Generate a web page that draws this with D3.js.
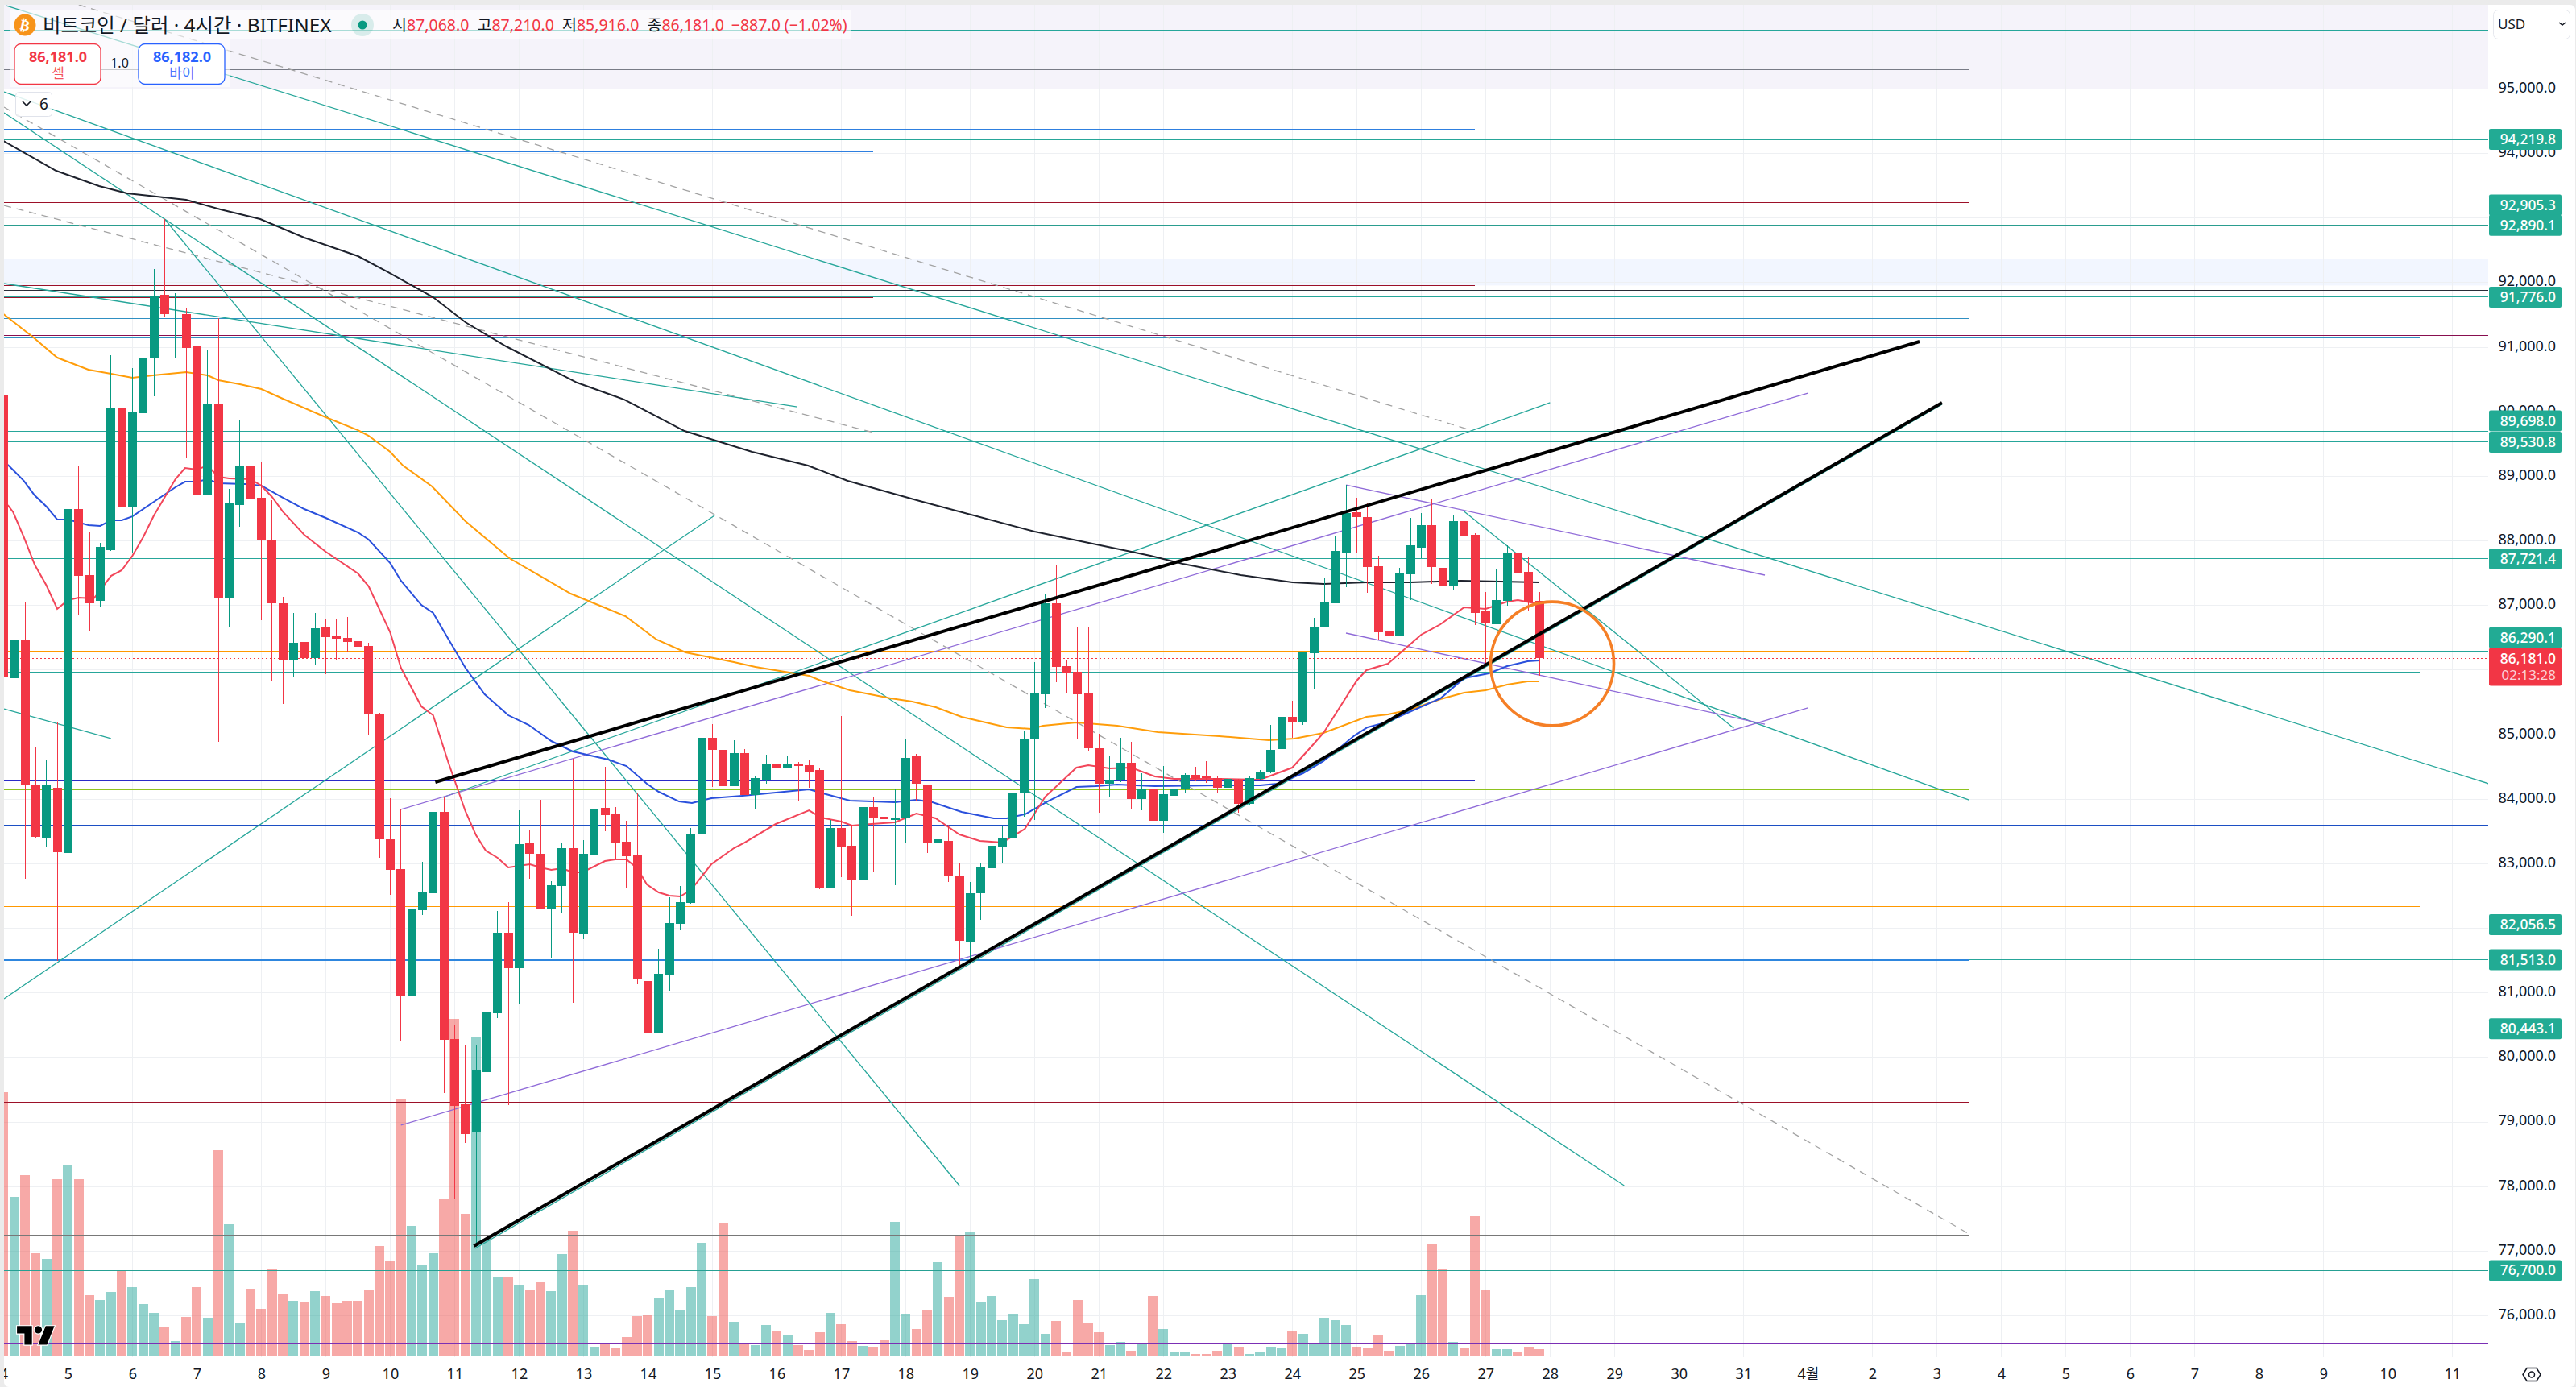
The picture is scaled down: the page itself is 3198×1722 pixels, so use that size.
<!DOCTYPE html>
<html>
<head>
<meta charset="utf-8">
<script src="https://cdn.jsdelivr.net/npm/d3@7"></script>
<style>
  html, body { margin: 0; padding: 0; background: #ebebeb; overflow: hidden; }
  svg text { font-family: "Noto Sans", "Noto Sans CJK KR", sans-serif; }
</style>
</head>
<body>
<svg id="chart" width="3198" height="1722"></svg>
<script>
// 4h candles, Mar 4 00:00 -> Mar 27 20:00
const opens = [90266,85875,86475,84215,83407,84176,83164,88494,87472,87072,87858,90054,88532,89979,90831,91814,91530,91518,91027,88719,90116,87127,88557,89156,88669,88008,87035,86162,86436,86187,86661,86524,86499,86449,86372,85329,83380,82918,80951,82282,82544,83804,80286,79276,78852,79775,80685,81933,81384,83330,83155,82307,82656,83242,81920,83143,83866,83766,83342,83130,81184,80386,81284,82070,82394,83469,84953,84762,84204,84715,84066,84304,84552,84490,84538,84528,84452,82624,83555,83278,82757,83879,83726,83693,83703,84662,84228,83330,83354,82819,81793,82543,82929,83273,83392,84085,84925,85627,87035,86061,85975,85650,84791,84242,84285,84567,84003,84151,83669,84056,84147,84376,84352,84328,84180,84304,83922,84314,84409,84782,85276,85193,86265,86673,87039,87821,88444,88369,87604,86606,86523,87484,87895,88245,87584,87309,88307,88095,86910,86710,87072,87808,87521,87068];
const highs = [90300,87297,87060,84800,84603,85182,88753,89168,88145,87971,90877,91139,90677,91251,92210,92988,91843,91618,91235,90952,91451,88806,89867,91305,89218,88632,87135,86885,86711,86885,86786,86798,86823,86511,86423,85340,84016,83841,82955,83030,84253,84028,80511,80186,80186,80885,82269,82407,83829,83529,83991,82731,83317,84628,83367,84066,84502,83879,83667,84103,81396,81683,82481,82656,83554,85450,85164,84915,84915,84777,84352,84691,84724,84677,84576,84600,84476,83684,85288,83602,83880,84042,83946,84166,84925,84700,84228,83454,83598,83015,82714,83006,83454,83579,84280,85068,86118,87183,87622,86166,86667,86667,85011,84677,84949,84887,84400,84438,84509,84648,84400,84505,84590,84362,84428,84318,84352,84447,85149,85345,85525,86278,86810,87434,88070,88864,88669,88577,87771,86972,87584,88357,88432,88644,88033,88394,88469,88120,87209,87559,87933,87845,87746,87210];
const lows = [85800,85406,82765,83400,83266,81500,82222,86865,86598,86989,87846,88170,87821,89904,90243,91461,90831,89279,88075,88707,84883,86678,88220,88257,86773,85825,85476,85900,86012,86087,85937,86162,86274,86183,84985,83093,82519,80253,80328,82207,81421,79455,77803,78677,77067,79725,80610,79263,80835,82768,82307,81534,82232,80847,81833,82931,83504,83068,82619,81134,80111,80386,81034,81970,82382,82872,84190,83941,84204,84066,83841,84242,84328,84471,83980,84175,82610,82624,82791,82199,82757,82882,83383,82671,83311,83960,83173,82471,82724,81430,81511,82132,82767,83015,83392,83731,83684,85417,85813,85631,84939,84734,83793,84032,84270,83841,83827,83311,83478,83922,84104,84276,84247,84085,84180,83788,83917,84304,84400,84705,84956,85151,85717,86673,87039,87284,87825,87197,86461,86448,86523,87085,87729,87334,87238,87247,87995,86698,86099,86710,86997,87438,86922,85916];
const closes = [85888,86474,84215,83419,84215,83177,88492,87459,87035,87908,90066,88532,89991,90840,91795,91518,91540,90993,88719,90116,87127,88582,89156,88657,88008,87035,86162,86424,86187,86648,86511,86486,86436,86361,85329,83385,82906,80951,82294,82556,83804,80278,79251,78814,79812,80698,81933,81384,83305,83155,82307,82669,83242,81933,83155,83854,83754,83330,83118,81209,80373,81296,82082,82407,83467,84953,84762,84204,84715,84066,84328,84538,84490,84538,84519,84428,82633,83555,83268,82757,83879,83717,83693,83703,84638,84242,83335,83378,82805,81812,82543,82944,83278,83388,84089,84939,85636,87035,86051,85951,85627,84791,84242,84304,84567,84003,84151,83669,84080,84151,84376,84318,84333,84180,84314,83922,84323,84428,84762,85273,85193,86278,86673,87047,87845,88428,88369,87596,86586,86523,87509,87933,88245,87596,87309,88307,88082,86885,86723,87085,87808,87509,87060,86181];
const volumes = [984,594,675,384,363,660,711,660,228,210,240,321,258,195,162,108,57,147,258,144,768,492,123,252,177,327,231,207,201,243,225,198,207,207,249,411,354,957,486,342,384,588,1257,531,1188,437,294,294,267,249,276,243,381,468,267,36,45,30,72,150,153,219,246,171,258,423,150,495,129,51,42,117,96,81,42,24,90,162,120,57,39,36,60,501,159,102,171,351,222,452,465,201,225,135,159,120,288,84,132,18,210,126,90,42,54,21,45,225,102,15,18,9,9,21,45,36,9,18,36,33,93,84,48,144,135,117,36,33,81,21,39,45,228,420,324,54,30,522,246,27,27,18,36,27];

// moving averages as [bar, price]
const maRed = [[0.4,88556],[0.9,88444],[1.9,88057],[2.9,87633],[4,87309],[5,86947],[6,87084],[7,87122],[8.4,87109],[9,87234],[10,87458],[11,87546],[12,87770],[13,88057],[14,88394],[16,88955],[16.9,89130],[18,89105],[19,89167],[20,88993],[21,88968],[23,88955],[24,88856],[25,88681],[26,88456],[28,88095],[30,87833],[33,87496],[34,87296],[36,86585],[37,86036],[38.9,85437],[40,85300],[41.4,84577],[43,83816],[44,83441],[44.9,83204],[46,83092],[47,82942],[49,82992],[50,82942],[51,82905],[52,82930],[53,82868],[53.9,82868],[56,83042],[57,83067],[58,83067],[59,82930],[59.9,82680],[61,82556],[62,82506],[63,82493],[64,82593],[65.9,82992],[68,83242],[69,83329],[71.9,83616],[75,83828],[76.1,83716],[78,83653],[79,83591],[80.8,83616],[83,83641],[85,83778],[86.8,83703],[89,83454],[90.9,83354],[93,83329],[95.1,83541],[96,83778],[97,84040],[99.9,84489],[101,84527],[103,84477],[105,84489],[107.2,84352],[109,84315],[113.2,84315],[117,84302],[120,84489],[121.9,84839],[122.9,85026],[126,85837],[126.9,85999],[128.9,86099],[132,86548],[133.8,86710],[136,86972],[138,86947],[140,87059],[141,87084],[143,87022]];
const maBlue = [[0.4,89180],[1.9,88930],[2.9,88706],[4,88531],[5,88332],[6,88332],[7.9,88244],[9,88232],[10,88319],[11,88319],[12,88381],[14,88606],[16,88831],[16.9,88918],[18,88918],[19,88955],[20,88893],[22.5,88881],[24,88856],[25.9,88681],[28,88494],[30,88357],[33,88132],[34,88020],[36,87658],[37,87384],[38.9,87009],[40,86885],[41.4,86485],[43,86036],[44.8,85624],[47,85300],[48.9,85150],[51,84901],[53,84739],[56.3,84614],[58,84514],[59.9,84240],[61,84115],[62.9,83965],[64.1,83940],[65.9,84015],[68.8,84053],[75,84152],[76.3,84090],[78.8,83978],[83,83953],[85,83990],[86.5,83953],[89.2,83803],[92.2,83703],[93.4,83703],[95.1,83766],[97.2,83965],[99.9,84190],[101.7,84202],[103.7,84227],[107.2,84202],[113.2,84215],[117,84215],[118.6,84240],[121,84402],[122.9,84589],[125.8,84988],[127,85113],[128.7,85188],[133.8,85562],[136,85874],[138.3,85949],[140,86061],[141.9,86136],[143,86148]];
const maOrange = [[0,91513],[2.7,91163],[5,90839],[7.9,90652],[10,90590],[12,90527],[13.9,90565],[17,90615],[19,90565],[20,90490],[22,90427],[24,90353],[26,90203],[30,89916],[33,89716],[34,89629],[36,89380],[37.2,89167],[39.9,88843],[43,88307],[47.1,87733],[50.1,87446],[52.8,87184],[57.9,86835],[59.7,86610],[60.8,86473],[63.5,86273],[68,86124],[70,86049],[75,85911],[76.1,85837],[78.8,85687],[82.6,85562],[84.6,85512],[86.8,85425],[89.2,85275],[93.4,85113],[95.7,85088],[96.8,85138],[99.9,85188],[103.7,85138],[107.5,85038],[113.2,84976],[117.8,84913],[120.2,84938],[122.9,85026],[126.9,85275],[128.9,85313],[131,85388],[133.8,85550],[136,85650],[138,85687],[140,85774],[141.9,85824],[143,85824]];
const maBlack = [[0,94195],[4.9,93733],[8.9,93496],[11.5,93384],[17,93284],[20.2,93134],[23.9,92985],[28,92698],[33,92411],[35.7,92174],[40,91775],[43,91388],[46.8,91014],[53.4,90452],[57.8,90190],[63.4,89704],[69.7,89380],[74.9,89167],[78.6,88930],[85.3,88619],[96,88144],[106.8,87770],[109.8,87645],[115.2,87471],[120,87359],[122.9,87334],[126.9,87359],[131,87359],[135.7,87383],[143,87359]];

// drawn horizontal levels, grouped by where they stop
const tealFull = [95907,94219.8,91776,89698,89530.8,87721.4,86290.1,82056.5,81513];
const tealBold = [80443.1,76700];
const tealHeavy = [92890.1];
const tealShort = [[88403,183],[85973,225]];
const blackFull = [95000,92367,91881];
const grayShort = [[95299,183]];
const grayBold = [[77251,183]];
const blueLight = [[94373,137],[94029,81]];
const blueThick = [[81513,183]];
const darkRed = [[94228,225],[91957,137],[91775,81],[93237,183],[79303,183]];
const steelBlue = [[91442,183],[91145,225]];
const orangeShort = [[86290,183],[82337,225]];
const navyShort = [[84673,81],[84285,137]];
const limeShort = [[84145,183],[78710,225]];
const magentaFull = [91182];
const royalFull = [83598];
const purpleFull = [75578];

// trend lines as [bar1, price1, bar2, price2]
const tealTrends = [[0.27,96291,231.4,84240],[0.05,94956,183,83990],[0.05,94632,150.9,78015],[15,92985,89,78015],[0.05,91987,73.9,90078],[0.05,85400,10,84939],[0.05,80910,66.2,88394],[136,88457,161.1,85101],[43.9,77042,180.5,90116],[40.9,84028,144,90141]];
const purpleTrends = [[37,83841,168,90290],[37,78951,168,85413],[125,88868,164,87471],[125,86573,164,85163]];
const dashedTrends = [[7,96304,136.6,89717],[0.05,93197,81,89679],[0.05,94719,183,77267]];
const blackTrends = [[40.2,84265,178.4,91089],[43.8,77080,180.5,90141]];

// 86,000 sits fully under the last price tag in the reference
const gridPrices = d3.range(76000, 95001, 1000);
const priceTicks = gridPrices.filter(d => d !== 86000);
const dayLabels = ["4","5","6","7","8","9","10","11","12","13","14","15","16","17","18","19","20","21","22","23","24","25","26","27","28","29","30","31","4월","2","3","4","5","6","7","8","9","10","11"];
const labelTexts = ["94,219.8","92,905.3","92,890.1","91,776.0","89,698.0","89,530.8","87,721.4","86,290.1","82,056.5","81,513.0","80,443.1","76,700.0"];
const labelPrices = [94219.8,92905.3,92890.1,91776,89698,89530.8,87721.4,86290.1,82056.5,81513,80443.1,76700];
const labelShifts = [0,-24,0,0,-13,0,0,-17,0,0,0,0];
const lastClose = 86181;

const plotLeft = 5, plotRight = 3089, plotTop = 6, plotBottom = 1685;

const x = d3.scaleLinear().domain([0, 231.35]).range([4.4, plotRight]);
const y = d3.scaleLinear().domain([95000, 76000]).range([110.5, 1633.5]);
const yVol = d3.scaleLinear().domain([0, 1200]).range([1684, 1284]);

const svg = d3.select("#chart");
const fmt = d3.format(",.1f");
const up = "#089981", down = "#F23645";

svg.append("rect").attr("x", plotLeft).attr("y", plotTop).attr("width", 3192).attr("height", 1716).attr("rx", 6).attr("fill", "#fff");

svg.append("clipPath").attr("id", "plot").append("rect")
  .attr("x", plotLeft).attr("y", plotTop).attr("width", plotRight - plotLeft).attr("height", plotBottom - plotTop);

const plot = svg.append("g").attr("clip-path", "url(#plot)");

// bands
plot.append("rect").attr("x", plotLeft).attr("width", plotRight - plotLeft)
  .attr("y", y(96400)).attr("height", y(95000) - y(96400)).attr("fill", "#f5f3fa");
plot.append("rect").attr("x", plotLeft).attr("width", plotRight - plotLeft)
  .attr("y", y(92367)).attr("height", y(91957) - y(92367)).attr("fill", "#f2f6ff");

// grid
plot.append("g").attr("shape-rendering", "crispEdges").selectAll("line").data(gridPrices).join("line")
  .attr("x1", plotLeft).attr("x2", plotRight).attr("y1", d => y(d)).attr("y2", d => y(d))
  .attr("stroke", "#eef0f3").attr("stroke-width", 1);
plot.append("g").attr("shape-rendering", "crispEdges").selectAll("line").data(dayLabels).join("line")
  .attr("x1", (d, i) => x(i * 6)).attr("x2", (d, i) => x(i * 6)).attr("y1", plotTop).attr("y2", plotBottom)
  .attr("stroke", "#eef0f3").attr("stroke-width", 1);

// volume
plot.append("g").attr("shape-rendering", "crispEdges").selectAll("rect").data(volumes).join("rect")
  .attr("x", (d, i) => x(i) - 6).attr("width", 12)
  .attr("y", d => yVol(d)).attr("height", d => yVol(0) - yVol(d))
  .attr("fill", (d, i) => closes[i] >= opens[i] ? "rgba(38,166,154,0.5)" : "rgba(239,83,80,0.5)");

function levels(rows, color, width) {
  plot.append("g").attr("shape-rendering", "crispEdges").selectAll("line").data(rows).join("line")
    .attr("x1", plotLeft)
    .attr("x2", d => Array.isArray(d) ? x(d[1]) : plotRight)
    .attr("y1", d => y(Array.isArray(d) ? d[0] : d))
    .attr("y2", d => y(Array.isArray(d) ? d[0] : d))
    .attr("stroke", color).attr("stroke-width", width);
}
levels(blackFull, "#2a2e39", 1);
levels(grayShort, "#787b86", 1);
levels(grayBold, "#787878", 1);
levels(tealShort, "#26a69a", 1);
levels(tealFull, "#26a69a", 1);
levels(blueLight, "#2e7fe0", 1);
levels(darkRed, "#9c1028", 1);
levels(steelBlue, "#2f8fc2", 1);
levels(orangeShort, "#ff9800", 1);
levels(navyShort, "#2a2ac8", 1);
levels(limeShort, "#8fc31f", 1);
levels(magentaFull, "#880e4f", 1);
levels(royalFull, "#1c4fc4", 1);
levels(purpleFull, "#7b2fb5", 1);
levels(tealBold, "#26a093", 1);
levels(tealHeavy, "#2a9d8f", 2);
levels(blueThick, "#2e86de", 2);

function trends(rows, color, width, dash) {
  plot.append("g").selectAll("line").data(rows).join("line")
    .attr("x1", d => x(d[0])).attr("y1", d => y(d[1]))
    .attr("x2", d => x(d[2])).attr("y2", d => y(d[3]))
    .attr("stroke", color).attr("stroke-width", width)
    .attr("stroke-dasharray", dash || null);
}
trends(dashedTrends, "#a3a3a3", 1.3, "9 7");
trends(tealTrends, "#26a69a", 1.3);
trends(purpleTrends, "#8f6ad8", 1.3);

// last price line
plot.append("line").attr("x1", plotLeft).attr("x2", plotRight)
  .attr("y1", y(lastClose)).attr("y2", y(lastClose))
  .attr("stroke", down).attr("stroke-width", 1).attr("stroke-dasharray", "2 3")
  .attr("shape-rendering", "crispEdges");

// moving averages
const line = d3.line().x(d => x(d[0])).y(d => y(d[1]));
[[maBlack, "#1e222d"], [maOrange, "#ff9d0a"], [maBlue, "#2a50dc"], [maRed, "#f2465a"]].forEach(([rows, color]) => {
  plot.append("path").attr("d", line(rows)).attr("fill", "none").attr("stroke", color).attr("stroke-width", 2);
});

// candles
const candles = plot.append("g").attr("shape-rendering", "crispEdges").selectAll("g").data(closes).join("g")
  .attr("fill", (d, i) => d >= opens[i] ? up : down)
  .attr("stroke", (d, i) => d >= opens[i] ? up : down);
candles.append("line")
  .attr("x1", (d, i) => x(i)).attr("x2", (d, i) => x(i))
  .attr("y1", (d, i) => y(highs[i])).attr("y2", (d, i) => y(lows[i]))
  .attr("stroke-width", 1);
candles.append("rect")
  .attr("x", (d, i) => x(i) - 5.5).attr("width", 11)
  .attr("y", (d, i) => y(Math.max(d, opens[i])))
  .attr("height", (d, i) => Math.max(1.5, Math.abs(y(d) - y(opens[i]))))
  .attr("stroke", "none");

// main drawn trend lines and the circle sit above the candles
plot.append("g").selectAll("line").data(blackTrends).join("line")
  .attr("x1", d => x(d[0])).attr("y1", d => y(d[1]))
  .attr("x2", d => x(d[2])).attr("y2", d => y(d[3]))
  .attr("stroke", "#000").attr("stroke-width", 4);
plot.append("ellipse")
  .attr("cx", x(144.2)).attr("cy", y(86099))
  .attr("rx", x(5.74) - x(0)).attr("ry", y(85140) - y(86099))
  .attr("fill", "none").attr("stroke", "#f57f26").attr("stroke-width", 3.6);

// price axis
const yAxis = svg.append("g").attr("transform", `translate(${plotRight},0)`)
  .call(d3.axisRight(y).tickValues(priceTicks).tickFormat(fmt).tickSize(0));
yAxis.select(".domain").remove();
yAxis.selectAll("text").attr("x", 84).attr("dy", "0.22em").attr("text-anchor", "end")
  .style("font-size", "18px").attr("fill", "#131722");

// time axis
const xAxis = svg.append("g").attr("transform", `translate(0,${plotBottom})`)
  .call(d3.axisBottom(x).tickValues(dayLabels.map((d, i) => i * 6)).tickFormat((d, i) => dayLabels[i]).tickSize(0));
xAxis.select(".domain").remove();
xAxis.selectAll("text").attr("y", 14).style("font-size", "18px").attr("fill", "#131722");

// price labels
const tags = svg.append("g").selectAll("g").data(labelTexts).join("g")
  .attr("transform", (d, i) => `translate(3090,${y(labelPrices[i]) + labelShifts[i]})`);
tags.append("rect").attr("y", -13).attr("width", 90).attr("height", 26).attr("rx", 2).attr("fill", "#22ab94");
tags.append("text").attr("x", 83).attr("dy", "0.35em").attr("text-anchor", "end")
  .attr("fill", "#fff").style("font-size", "17.4px").style("font-weight", 500).text(d => d);

const lastTag = svg.append("g").attr("transform", `translate(3090,${y(lastClose)})`);
lastTag.append("rect").attr("y", -13).attr("width", 90).attr("height", 47).attr("rx", 2).attr("fill", down);
lastTag.append("text").attr("x", 83).attr("dy", "0.35em").attr("text-anchor", "end")
  .attr("fill", "#fff").style("font-size", "17.4px").style("font-weight", 500).text(fmt(lastClose));
lastTag.append("text").attr("x", 83).attr("y", 21).attr("dy", "0.35em").attr("text-anchor", "end")
  .attr("fill", "#fbd0d5").style("font-size", "17px").text("02:13:28");

// currency box
svg.append("rect").attr("x", 3095.5).attr("y", 12.5).attr("width", 95).attr("height", 36).attr("rx", 6)
  .attr("fill", "#fff").attr("stroke", "#e6e8ee").attr("stroke-width", 1);
svg.append("text").attr("x", 3101).attr("y", 36).style("font-size", "17px").attr("fill", "#131722").text("USD");
svg.append("path").attr("d", "M3177 28l4 3 4-3").attr("fill", "none").attr("stroke", "#131722").attr("stroke-width", 1.5);

// eye icon
svg.append("path").attr("d", "M3132 1706.5l5-8h12l5 8-5 8h-12z").attr("fill", "none").attr("stroke", "#131722").attr("stroke-width", 1.5);
svg.append("circle").attr("cx", 3143).attr("cy", 1706.5).attr("r", 3.5).attr("fill", "none").attr("stroke", "#131722").attr("stroke-width", 1.5);

// legend header
svg.append("rect").attr("x", 12).attr("y", 12).attr("width", 1045).attr("height", 36).attr("fill", "#fff").attr("opacity", 0.6);
svg.append("circle").attr("cx", 31).attr("cy", 31).attr("r", 13.5).attr("fill", "#f7931a");
svg.append("text").attr("transform", "translate(31,31) rotate(12)").attr("text-anchor", "middle").attr("dy", "0.36em")
  .attr("fill", "#fff").style("font-size", "18px").style("font-weight", 700).style("font-family", "DejaVu Sans").text("₿");
svg.append("text").attr("x", 53).attr("y", 40).style("font-size", "24.4px").attr("fill", "#131722")
  .text("비트코인 / 달러 · 4시간 · BITFINEX");
svg.append("circle").attr("cx", 450).attr("cy", 31).attr("r", 14).attr("fill", up).attr("opacity", 0.14);
svg.append("circle").attr("cx", 450).attr("cy", 31).attr("r", 5.5).attr("fill", up);

const ohlc = svg.append("text").attr("x", 487).attr("y", 38).style("font-size", "19.5px");
[["시", "87,068.0"], ["  고", "87,210.0"], ["  저", "85,916.0"], ["  종", "86,181.0"]].forEach(([k, v]) => {
  ohlc.append("tspan").attr("fill", "#131722").attr("xml:space", "preserve").text(k);
  ohlc.append("tspan").attr("fill", down).text(v);
});
ohlc.append("tspan").attr("fill", down).attr("dx", 9).text("−887.0 (−1.02%)");

// trade buttons
svg.append("rect").attr("x", 12).attr("y", 48).attr("width", 273).attr("height", 60).attr("fill", "#fff").attr("opacity", 0.6);
function tradeButton(left, color, price, label) {
  svg.append("rect").attr("x", left).attr("y", 54.5).attr("width", 107).attr("height", 50).attr("rx", 8)
    .attr("fill", "#fff").attr("stroke", color).attr("stroke-width", 1.3);
  svg.append("text").attr("x", left + 54).attr("y", 77).attr("text-anchor", "middle")
    .attr("fill", color).style("font-size", "18px").style("font-weight", 700).text(price);
  svg.append("text").attr("x", left + 54).attr("y", 97).attr("text-anchor", "middle")
    .attr("fill", color).attr("opacity", 0.85).style("font-size", "17px").text(label);
}
tradeButton(18, down, "86,181.0", "셀");
tradeButton(172, "#2962ff", "86,182.0", "바이");
svg.append("text").attr("x", 148.5).attr("y", 84).attr("text-anchor", "middle").style("font-size", "16px").attr("fill", "#131722").text("1.0");

// collapsed drawings button
svg.append("rect").attr("x", 19.5).attr("y", 114.5).attr("width", 45).attr("height", 30).attr("rx", 4)
  .attr("fill", "#fff").attr("fill-opacity", 0.85).attr("stroke", "#e0e3eb");
svg.append("path").attr("d", "M28 126l5 5 5-5").attr("fill", "none").attr("stroke", "#131722").attr("stroke-width", 1.6);
svg.append("text").attr("x", 49).attr("y", 136).style("font-size", "19px").attr("fill", "#131722").text("6");

// tradingview logo
svg.append("path").attr("transform", "translate(18,1637) scale(1.55)")
  .attr("d", "M14 6H2v6h6v9h6V6zm12 15h-7l6-15h7l-6 15zm-7-9a3 3 0 1 0 0-6 3 3 0 0 0 0 6z")
  .attr("fill", "#000").attr("stroke", "#fff").attr("stroke-width", 1.5).attr("paint-order", "stroke");

// window border on top
svg.append("rect").attr("x", 0).attr("y", 0).attr("width", plotLeft).attr("height", 1722).attr("fill", "#ebebeb");
svg.append("rect").attr("x", 0).attr("y", 0).attr("width", 3198).attr("height", plotTop).attr("fill", "#ebebeb");
</script>
</body>
</html>
